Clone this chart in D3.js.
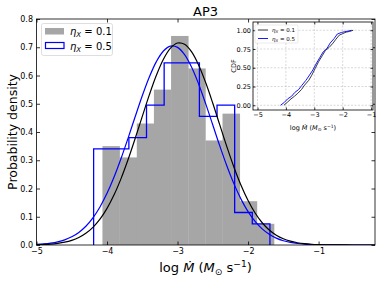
<!DOCTYPE html>
<html>
<head>
<meta charset="utf-8">
<script src="https://cdn.jsdelivr.net/npm/d3@7"></script>
<style>
  body { margin: 0; background: #fff; }
  text { font-family: "DejaVu Sans", sans-serif; }
</style>
</head>
<body>
<script>
// histogram, eta_X = 0.1 (filled gray)
const grayEdges = [-4.065, -3.822, -3.578, -3.335, -3.092, -2.848, -2.605, -2.362, -2.118, -1.875, -1.632];
const grayHeights = [0.35, 0.31, 0.43, 0.55, 0.74, 0.625, 0.37, 0.465, 0.155, 0.075];

// histogram, eta_X = 0.5 (blue step)
const blueEdges = [-4.19, -3.94, -3.69, -3.44, -3.19, -2.94, -2.69, -2.44, -2.19, -1.94, -1.69];
const blueHeights = [0.34, 0.34, 0.38, 0.495, 0.645, 0.645, 0.455, 0.495, 0.115, 0.075];

// fitted curves, sampled every 0.1 from -5.0 to -0.2
const curveX = d3.range(49).map(i => -5 + i * 0.1);
const blackFit = [0.0009, 0.0018, 0.0032, 0.0058, 0.0099, 0.0165, 0.0265, 0.0414, 0.0625, 0.0914,
  0.1295, 0.1776, 0.2359, 0.3034, 0.3777, 0.4553, 0.5315, 0.6007, 0.6575, 0.6967,
  0.7150, 0.7104, 0.6834, 0.6366, 0.5742, 0.5016, 0.4242, 0.3473, 0.2754, 0.2114,
  0.1572, 0.1131, 0.0788, 0.0532, 0.0348, 0.0220, 0.0135, 0.0080, 0.0046, 0.0026,
  0.0014, 0.0007, 0.0004, 0.0002, 0.0001, 0, 0, 0, 0];
const blueFit = [0.0021, 0.0038, 0.0066, 0.0111, 0.0182, 0.0290, 0.0446, 0.0665, 0.0961, 0.1346,
  0.1828, 0.2405, 0.3069, 0.3794, 0.4547, 0.5283, 0.5948, 0.6491, 0.6867, 0.7040,
  0.6996, 0.6739, 0.6292, 0.5693, 0.4994, 0.4246, 0.3499, 0.2795, 0.2164, 0.1624,
  0.1181, 0.0833, 0.0569, 0.0377, 0.0242, 0.0150, 0.0091, 0.0053, 0.0030, 0.0016,
  0.0009, 0.0005, 0.0002, 0.0001, 0, 0, 0, 0, 0];

// inset CDFs
const cdfBlackX = [-4.07, -3.95, -3.82, -3.70, -3.58, -3.45, -3.34, -3.20, -3.09, -2.97, -2.85,
  -2.72, -2.61, -2.48, -2.36, -2.24, -2.12, -2.00, -1.88, -1.75, -1.63];
const cdfBlackY = [0, 0.04, 0.085, 0.12, 0.16, 0.21, 0.27, 0.33, 0.40, 0.49, 0.58,
  0.66, 0.73, 0.77, 0.82, 0.88, 0.935, 0.955, 0.975, 0.985, 1.0];
const cdfBlueX = [-4.19, -4.05, -3.94, -3.80, -3.69, -3.55, -3.44, -3.30, -3.19, -3.05, -2.94,
  -2.80, -2.69, -2.55, -2.44, -2.30, -2.19, -2.05, -1.94, -1.80, -1.69];
const cdfBlueY = [0, 0.04, 0.085, 0.12, 0.17, 0.21, 0.265, 0.33, 0.39, 0.47, 0.55,
  0.64, 0.71, 0.76, 0.83, 0.89, 0.95, 0.97, 0.98, 0.99, 1.0];

const xTicks = [-5, -4, -3, -2, -1];
const yTicks = [0, 0.1, 0.2, 0.3, 0.4, 0.5, 0.6, 0.7, 0.8];
const cdfTicks = [0, 0.25, 0.5, 0.75, 1.0];
const labels = ['0.1', '0.5'];

const svg = d3.select('body').append('svg')
    .attr('width', 380)
    .attr('height', 282);

const x = d3.scaleLinear().domain([-5, -0.2]).range([36.5, 375]);
const y = d3.scaleLinear().domain([0, 0.8]).range([245, 19]);

svg.append('defs').append('clipPath').attr('id', 'clip')
    .append('rect')
    .attr('x', 36.5).attr('y', 19).attr('width', 338.5).attr('height', 226);

const plot = svg.append('g').attr('clip-path', 'url(#clip)');

// gray bars
plot.selectAll('rect.bar')
    .data(grayHeights)
    .enter()
    .append('rect')
    .attr('class', 'bar')
    .attr('x', (d, i) => x(grayEdges[i]))
    .attr('width', (d, i) => x(grayEdges[i + 1]) - x(grayEdges[i]) + 0.3)
    .attr('y', d => y(d))
    .attr('height', d => y(0) - y(d))
    .attr('fill', '#a6a6a6');

// blue step outline
const stepPts = [[blueEdges[0], 0]];
blueHeights.forEach((h, i) => {
    stepPts.push([blueEdges[i], h]);
    stepPts.push([blueEdges[i + 1], h]);
});
stepPts.push([blueEdges[blueEdges.length - 1], 0]);

plot.append('path')
    .attr('d', d3.line().x(d => x(d[0])).y(d => y(d[1]))(stepPts))
    .attr('fill', 'none')
    .attr('stroke', '#0000ff')
    .attr('stroke-width', 1.3);

const fitLine = d3.line()
    .x(d => x(d[0]))
    .y(d => y(d[1]))
    .curve(d3.curveCatmullRom);

plot.append('path')
    .attr('d', fitLine(curveX.map((v, i) => [v, blueFit[i]])))
    .attr('fill', 'none')
    .attr('stroke', '#0000ff')
    .attr('stroke-width', 1.2);

plot.append('path')
    .attr('d', fitLine(curveX.map((v, i) => [v, blackFit[i]])))
    .attr('fill', 'none')
    .attr('stroke', '#000')
    .attr('stroke-width', 1.2);

function styleAxis(g, fs) {
    g.select('.domain').remove();
    g.selectAll('.tick line').attr('stroke', '#000').attr('stroke-width', 0.8);
    g.selectAll('.tick text')
        .attr('fill', '#000')
        .style('font-family', '"DejaVu Sans", sans-serif')
        .style('font-size', fs + 'px');
}

// main axes, ticks pointing in on all four sides
svg.append('g')
    .attr('transform', 'translate(0,245)')
    .call(d3.axisBottom(x).tickValues(xTicks).tickSize(-3.5).tickPadding(3.5).tickFormat(d3.format('d')))
    .call(g => styleAxis(g, 8));

svg.append('g')
    .attr('transform', 'translate(0,19)')
    .call(d3.axisTop(x).tickValues(xTicks).tickSize(-3.5).tickFormat(''))
    .call(g => styleAxis(g, 8));

svg.append('g')
    .attr('transform', 'translate(36.5,0)')
    .call(d3.axisLeft(y).tickValues(yTicks).tickSize(-3.5).tickPadding(3.5).tickFormat(d3.format('.1f')))
    .call(g => styleAxis(g, 8));

svg.append('g')
    .attr('transform', 'translate(375,0)')
    .call(d3.axisRight(y).tickValues(yTicks).tickSize(-3.5).tickFormat(''))
    .call(g => styleAxis(g, 8));

svg.append('rect')
    .attr('x', 36.5).attr('y', 19).attr('width', 338.5).attr('height', 226)
    .attr('fill', 'none').attr('stroke', '#000').attr('stroke-width', 0.8);

// title and axis labels
svg.append('text')
    .attr('x', 205.5).attr('y', 16)
    .attr('text-anchor', 'middle')
    .style('font-size', '13px')
    .text('AP3');

svg.append('text')
    .attr('transform', 'translate(17,132) rotate(-90)')
    .attr('text-anchor', 'middle')
    .style('font-size', '12.5px')
    .text('Probability density');

function mdotLabel(sel, fs) {
    const t = sel.append('text').attr('text-anchor', 'middle').style('font-size', fs + 'px');
    t.append('tspan').text('log ');
    t.append('tspan').style('font-style', 'italic').text('\u1E40');
    t.append('tspan').text(' (');
    t.append('tspan').style('font-style', 'italic').text('M');
    t.append('tspan').attr('dy', fs * 0.22).style('font-size', (fs * 0.7) + 'px').text('\u2299');
    t.append('tspan').attr('dy', -fs * 0.22).text(' s');
    t.append('tspan').attr('dy', -fs * 0.38).style('font-size', (fs * 0.7) + 'px').text('\u22121');
    t.append('tspan').attr('dy', fs * 0.38).text(')');
    return t;
}

mdotLabel(svg.append('g').attr('transform', 'translate(205.5,272)'), 13);

function etaLabel(sel, val, fs) {
    const t = sel.append('text').style('font-size', fs + 'px');
    t.append('tspan').style('font-style', 'italic').text('\u03B7');
    t.append('tspan').attr('dy', fs * 0.2).style('font-style', 'italic').style('font-size', (fs * 0.7) + 'px').text('X');
    t.append('tspan').attr('dy', -fs * 0.2).text(' = ' + val);
    return t;
}

// main legend
const leg = svg.append('g');
leg.append('rect')
    .attr('x', 41.5).attr('y', 23.5).attr('width', 71).attr('height', 32).attr('rx', 2)
    .attr('fill', '#fff').attr('fill-opacity', 0.8)
    .attr('stroke', '#d5d5d5').attr('stroke-width', 0.8);
leg.append('rect')
    .attr('x', 45).attr('y', 28).attr('width', 19).attr('height', 6.5)
    .attr('fill', '#a6a6a6');
leg.append('rect')
    .attr('x', 45.5).attr('y', 42.5).attr('width', 18.5).attr('height', 6)
    .attr('fill', 'none').attr('stroke', '#0000ff').attr('stroke-width', 1.2);
labels.forEach((l, i) => {
    etaLabel(leg.append('g').attr('transform', 'translate(70,' + (35 + i * 14.5) + ')'), l, 10);
});

// inset CDF
const ix = d3.scaleLinear().domain([-5.158, -0.933]).range([253, 373]);
const iy = d3.scaleLinear().domain([-0.063, 1.11]).range([110, 22]);

const inset = svg.append('g');
inset.append('rect')
    .attr('x', 253).attr('y', 22).attr('width', 120).attr('height', 88)
    .attr('fill', '#fff');

inset.selectAll('line.gx')
    .data(xTicks)
    .enter()
    .append('line')
    .attr('class', 'gx')
    .attr('x1', d => ix(d)).attr('x2', d => ix(d))
    .attr('y1', 22).attr('y2', 110)
    .attr('stroke', '#b0b0b0').attr('stroke-width', 0.5).attr('stroke-dasharray', '2,1.5');

inset.selectAll('line.gy')
    .data(cdfTicks)
    .enter()
    .append('line')
    .attr('class', 'gy')
    .attr('x1', 253).attr('x2', 373)
    .attr('y1', d => iy(d)).attr('y2', d => iy(d))
    .attr('stroke', '#b0b0b0').attr('stroke-width', 0.5).attr('stroke-dasharray', '2,1.5');

const cdfLine = d3.line().x(d => ix(d[0])).y(d => iy(d[1]));

inset.append('path')
    .attr('d', cdfLine(cdfBlackX.map((v, i) => [v, cdfBlackY[i]])))
    .attr('fill', 'none').attr('stroke', '#222').attr('stroke-width', 0.9);

inset.append('path')
    .attr('d', cdfLine(cdfBlueX.map((v, i) => [v, cdfBlueY[i]])))
    .attr('fill', 'none').attr('stroke', '#0000ff').attr('stroke-width', 0.9);

inset.append('g')
    .attr('transform', 'translate(0,110)')
    .call(d3.axisBottom(ix).tickValues(xTicks).tickSize(-2.5).tickPadding(2).tickFormat(d3.format('d')))
    .call(g => styleAxis(g, 6.5));
inset.append('g')
    .attr('transform', 'translate(0,22)')
    .call(d3.axisTop(ix).tickValues(xTicks).tickSize(-2.5).tickFormat(''))
    .call(g => styleAxis(g, 6.5));
inset.append('g')
    .attr('transform', 'translate(253,0)')
    .call(d3.axisLeft(iy).tickValues(cdfTicks).tickSize(-2.5).tickPadding(2).tickFormat(d3.format('.2f')))
    .call(g => styleAxis(g, 6.5));
inset.append('g')
    .attr('transform', 'translate(373,0)')
    .call(d3.axisRight(iy).tickValues(cdfTicks).tickSize(-2.5).tickFormat(''))
    .call(g => styleAxis(g, 6.5));

inset.append('rect')
    .attr('x', 253).attr('y', 22).attr('width', 120).attr('height', 88)
    .attr('fill', 'none').attr('stroke', '#000').attr('stroke-width', 0.8);

inset.append('text')
    .attr('transform', 'translate(235.5,66) rotate(-90)')
    .attr('text-anchor', 'middle')
    .style('font-size', '6.5px')
    .text('CDF');

mdotLabel(inset.append('g').attr('transform', 'translate(313,130)'), 6.5);

// inset legend
const ileg = inset.append('g');
ileg.append('rect')
    .attr('x', 255).attr('y', 25).attr('width', 43).attr('height', 18).attr('rx', 1)
    .attr('fill', '#fff').attr('fill-opacity', 0.8)
    .attr('stroke', '#d5d5d5').attr('stroke-width', 0.5);
['#222', '#0000ff'].forEach((c, i) => {
    ileg.append('line')
        .attr('x1', 258).attr('x2', 268)
        .attr('y1', 30 + i * 8.5).attr('y2', 30 + i * 8.5)
        .attr('stroke', c).attr('stroke-width', 0.9);
    etaLabel(ileg.append('g').attr('transform', 'translate(272,' + (32 + i * 8.5) + ')'), labels[i], 5.5);
});
</script>
</body>
</html>
